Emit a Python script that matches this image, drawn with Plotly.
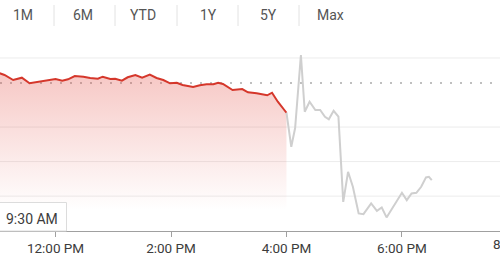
import plotly.graph_objects as go

DAY = "2024-01-02 "

# Regular session (red)
reg_times = ["11:02", "11:07", "11:16", "11:25", "11:33", "11:44", "11:51", "12:00", "12:07", "12:13",
             "12:20", "12:29", "12:36", "12:44", "12:49", "12:57", "13:02", "13:09", "13:15", "13:23",
             "13:30", "13:38", "13:45", "13:52", "13:59", "14:06", "14:12", "14:23", "14:30", "14:37",
             "14:44", "14:49", "14:54", "15:04", "15:14", "15:20", "15:29", "15:40", "15:45", "15:51",
             "16:00"]
reg_prices = [13.557, 13.507, 13.362, 13.429, 13.267, 13.313, 13.362, 13.391, 13.342, 13.383,
              13.478, 13.458, 13.420, 13.400, 13.458, 13.391, 13.400, 13.342, 13.441, 13.507,
              13.429, 13.516, 13.420, 13.362, 13.267, 13.284, 13.217, 13.159, 13.209, 13.238,
              13.238, 13.284, 13.246, 13.072, 13.101, 13.006, 12.977, 12.919, 12.994, 12.733,
              12.414]

# After hours (gray)
ah_times = ["16:00", "16:05", "16:09", "16:15", "16:19", "16:24", "16:30", "16:35", "16:40", "16:44",
            "16:49", "16:54", "16:59", "17:04", "17:09", "17:15", "17:20", "17:25", "17:28", "17:34",
            "17:39", "17:44", "17:51", "18:00", "18:05", "18:10", "18:15", "18:20", "18:25", "18:28",
            "18:31"]
ah_prices = [12.414, 11.429, 11.971, 14.087, 12.443, 12.733, 12.493, 12.493, 12.299, 12.223,
             12.472, 12.299, 9.835, 10.704, 10.270, 9.499, 9.478, 9.690, 9.788, 9.574,
             9.672, 9.383, 9.710, 10.096, 9.884, 10.078, 10.096, 10.270, 10.542, 10.559,
             10.464]

prev_close = 13.275
grid_values = [10, 11, 12, 14]

tick_times = ["12:00", "14:00", "16:00", "18:00", "20:00"]
tick_labels = ["12:00 PM", "2:00 PM", "4:00 PM", "6:00 PM", "8:00 PM"]

tabs = ["1M", "6M", "YTD", "1Y", "5Y", "Max"]
tab_centers = [23, 83, 143, 208, 268, 330]
tab_seps = [54, 115, 177, 238, 299]

x_range = [DAY + "11:02:18", DAY + "19:41:54"]
y_range = [8.99, 14.81]

W, H = 500, 260
MT, MB = 30, 29
PH = H - MT - MB
PX_PER_HOUR = 57.75  # horizontal scale implied by x_range


def py2paper(py):
    return (H - MB - py) / PH


RED = "#d5372b"
GRAY = "#cfcfcf"

fig = go.Figure()
fig.add_trace(go.Scatter(
    x=[DAY + t for t in reg_times], y=reg_prices, mode="lines",
    line=dict(color=RED, width=2), fill="tozeroy",
    fillgradient=dict(type="vertical",
                      colorscale=[[0, "rgba(226,70,60,0)"], [1, "rgba(226,70,60,0.30)"]],
                      start=9.6, stop=13.6),
    hoverinfo="skip"))
fig.add_trace(go.Scatter(
    x=[DAY + t for t in ah_times], y=ah_prices, mode="lines",
    line=dict(color=GRAY, width=2), hoverinfo="skip"))

shapes = []
for g in grid_values:
    shapes.append(dict(type="line", xref="paper", yref="y", x0=0, x1=1, y0=g, y1=g,
                       line=dict(color="#ececec", width=1), layer="below"))
shapes.append(dict(type="line", xref="paper", yref="y", x0=0, x1=1, y0=prev_close, y1=prev_close,
                   line=dict(color="#808080", width=1.2, dash="2px,8px"), layer="below"))
for sx in tab_seps:
    shapes.append(dict(type="line", xref="paper", yref="paper", x0=sx / W, x1=sx / W,
                       y0=py2paper(5), y1=py2paper(26), line=dict(color="#e2e2e2", width=1)))
# 9:30 AM box
shapes.append(dict(type="rect", xref="paper", yref="paper", x0=-2 / W, x1=66.5 / W,
                   y0=py2paper(231), y1=py2paper(202.5), fillcolor="white",
                   line=dict(color="#dcdcdc", width=1), layer="above"))

annotations = []
for t, cx in zip(tabs, tab_centers):
    annotations.append(dict(text=t, xref="paper", yref="paper", x=cx / W, y=py2paper(15),
                            showarrow=False, xanchor="center", yanchor="middle",
                            font=dict(family="Roboto", size=14, color="#555555")))
annotations.append(dict(text="9:30 AM", xref="paper", yref="paper", x=32 / W, y=py2paper(219),
                        showarrow=False, xanchor="center", yanchor="middle",
                        font=dict(family="Roboto", size=14, color="#3c3c3c")))
# label of the 8:00 PM tick, which lies just beyond the right edge (8 PM ~ 517 px)
x_8pm_px = 55.5 + 8 * PX_PER_HOUR
annotations.append(dict(text=tick_labels[-1], xref="paper", yref="paper", x=x_8pm_px / W,
                        y=py2paper(244), showarrow=False, xanchor="center", yanchor="middle",
                        font=dict(family="Roboto", size=13.5, color="#3c3c3c")))

fig.update_layout(
    width=W, height=H, margin=dict(l=0, r=0, t=MT, b=MB),
    paper_bgcolor="white", plot_bgcolor="white", showlegend=False,
    shapes=shapes, annotations=annotations,
    xaxis=dict(type="date", range=x_range, showgrid=False, zeroline=False,
               showline=True, linecolor="#a0a0a0", linewidth=1,
               ticks="outside", ticklen=5, tickcolor="#a0a0a0",
               tickvals=[DAY + t for t in tick_times], ticktext=tick_labels,
               tickfont=dict(family="Roboto", size=13.5, color="#3c3c3c")),
    yaxis=dict(range=y_range, showgrid=False, zeroline=False, showticklabels=False,
               showline=False),
)

fig.write_html("out.html", config={"displayModeBar": False})
